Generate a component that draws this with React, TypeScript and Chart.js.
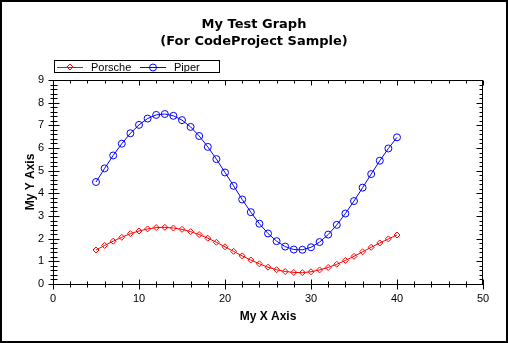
import React, { useEffect, useRef } from 'react';
import { Chart, registerables } from 'chart.js';

Chart.register(...registerables);

const titleLines = ['My Test Graph', '(For CodeProject Sample)'];
const xAxisTitle = 'My X Axis';
const yAxisTitle = 'My Y Axis';
const seriesNames = ['Porsche', 'Piper'];
const seriesColors = ['#FF0000', '#0000FF'];

const xValues = [5, 6, 7, 8, 9, 10, 11, 12, 13, 14, 15, 16, 17, 18, 19, 20, 21, 22, 23, 24, 25, 26, 27, 28, 29, 30, 31, 32, 33, 34, 35, 36, 37, 38, 39, 40];
const porsche = [1.50, 1.70, 1.89, 2.06, 2.22, 2.34, 2.43, 2.49, 2.50, 2.47, 2.41, 2.31, 2.18, 2.02, 1.84, 1.64, 1.44, 1.24, 1.06, 0.89, 0.74, 0.63, 0.55, 0.51, 0.50, 0.54, 0.62, 0.73, 0.87, 1.04, 1.22, 1.42, 1.62, 1.81, 1.99, 2.16];
const piper = [4.50, 5.10, 5.67, 6.19, 6.65, 7.02, 7.30, 7.46, 7.50, 7.42, 7.23, 6.93, 6.53, 6.05, 5.51, 4.92, 4.33, 3.73, 3.17, 2.66, 2.23, 1.89, 1.65, 1.52, 1.51, 1.62, 1.85, 2.18, 2.61, 3.11, 3.66, 4.25, 4.85, 5.44, 5.98, 6.47];

const xTicks = [0, 10, 20, 30, 40, 50];
const yTicks = [0, 1, 2, 3, 4, 5, 6, 7, 8, 9];
const xMinorPerMajor = 5;
const yMinorPerMajor = 5;

const FONT = "'Liberation Sans', Arial, sans-serif";

const framePlugin = {
  id: 'zgFrame',
  beforeDatasetsDraw(chart: any) {
    const { ctx, chartArea: a, scales } = chart;
    const xs = scales.x;
    const ys = scales.y;
    const L = Math.round(a.left) + 0.5;
    const R = Math.round(a.right) - 0.5;
    const T = Math.round(a.top) + 0.5;
    const B = Math.round(a.bottom) + 0.5;
    ctx.save();
    ctx.strokeStyle = '#000';
    ctx.lineWidth = 1;
    ctx.strokeRect(L, T, R - L, B - T);
    ctx.beginPath();
    for (let i = 0; i < xTicks.length; i++) {
      const v0 = xTicks[i];
      const px = Math.round(xs.getPixelForValue(v0)) + 0.5;
      ctx.moveTo(px, B - 5); ctx.lineTo(px, B + 5);
      ctx.moveTo(px, T); ctx.lineTo(px, T + 5);
      if (i < xTicks.length - 1) {
        const step = (xTicks[i + 1] - v0) / xMinorPerMajor;
        for (let k = 1; k < xMinorPerMajor; k++) {
          const mx = Math.round(xs.getPixelForValue(v0 + k * step)) + 0.5;
          ctx.moveTo(mx, B - 3); ctx.lineTo(mx, B + 3);
          ctx.moveTo(mx, T); ctx.lineTo(mx, T + 3);
        }
      }
    }
    for (let i = 0; i < yTicks.length; i++) {
      const v0 = yTicks[i];
      const py = Math.round(ys.getPixelForValue(v0)) + 0.5;
      ctx.moveTo(L - 5, py); ctx.lineTo(L + 6, py);
      ctx.moveTo(R, py); ctx.lineTo(R - 6, py);
      if (i < yTicks.length - 1) {
        const step = (yTicks[i + 1] - v0) / yMinorPerMajor;
        for (let k = 1; k < yMinorPerMajor; k++) {
          const my = Math.round(ys.getPixelForValue(v0 + k * step)) + 0.5;
          ctx.moveTo(L - 3, my); ctx.lineTo(L + 4, my);
          ctx.moveTo(R, my); ctx.lineTo(R - 3, my);
        }
      }
    }
    ctx.stroke();
    ctx.restore();
  },
  afterDraw(chart: any) {
    const { ctx } = chart;
    ctx.save();
    ctx.strokeStyle = '#000';
    ctx.lineWidth = 2;
    ctx.strokeRect(1, 1, chart.width - 2, chart.height - 2);
    ctx.lineWidth = 1;
    ctx.strokeRect(54.5, 60.5, 165, 12);
    ctx.font = `11px ${FONT}`;
    ctx.fillStyle = '#000';
    ctx.textBaseline = 'alphabetic';
    ctx.textAlign = 'left';
    const entries = [
      { x0: 57, name: seriesNames[0], color: seriesColors[0], style: 'diamond' },
      { x0: 140, name: seriesNames[1], color: seriesColors[1], style: 'circle' },
    ];
    for (const e of entries) {
      const cy = 67;
      const cx = e.x0 + 13;
      ctx.strokeStyle = e.color;
      ctx.beginPath();
      ctx.moveTo(e.x0, cy + 0.5); ctx.lineTo(e.x0 + 26, cy + 0.5);
      ctx.stroke();
      ctx.beginPath();
      if (e.style === 'diamond') {
        ctx.moveTo(cx, cy - 3); ctx.lineTo(cx + 3, cy); ctx.lineTo(cx, cy + 3); ctx.lineTo(cx - 3, cy); ctx.closePath();
      } else {
        ctx.arc(cx, cy + 0.5, 3.5, 0, Math.PI * 2);
      }
      ctx.stroke();
      ctx.fillText(e.name, e.x0 + 34, 71);
    }
    ctx.restore();
  },
};

export default function App() {
  const ref = useRef<HTMLCanvasElement>(null);
  useEffect(() => {
    const chart = new Chart(ref.current as HTMLCanvasElement, {
      type: 'line',
      data: {
        datasets: [
          {
            label: seriesNames[0],
            data: xValues.map((x, i) => ({ x, y: porsche[i] })),
            borderColor: seriesColors[0],
            borderWidth: 1,
            pointStyle: 'rectRot',
            pointRadius: 3,
            pointBorderWidth: 1,
            pointBorderColor: seriesColors[0],
            pointBackgroundColor: 'rgba(0,0,0,0)',
            tension: 0,
          },
          {
            label: seriesNames[1],
            data: xValues.map((x, i) => ({ x, y: piper[i] })),
            borderColor: seriesColors[1],
            borderWidth: 1,
            pointStyle: 'circle',
            pointRadius: 3.5,
            pointBorderWidth: 1,
            pointBorderColor: seriesColors[1],
            pointBackgroundColor: 'rgba(0,0,0,0)',
            tension: 0,
          },
        ],
      },
      options: {
        responsive: false,
        animation: false,
        devicePixelRatio: 1,
        layout: { padding: 0 },
        plugins: {
          legend: { display: false },
          tooltip: { enabled: false },
          title: {
            display: true,
            text: titleLines,
            color: '#000',
            font: { family: "'DejaVu Sans', sans-serif", weight: 'bold', size: 13, lineHeight: '17px' },
            padding: { top: 16, bottom: 30 },
          },
        },
        scales: {
          x: {
            type: 'linear',
            min: 0,
            max: 50,
            afterFit: (s: any) => { s.height = 59; },
            afterBuildTicks: (s: any) => { s.ticks = xTicks.map((v) => ({ value: v })); },
            grid: { display: false, drawTicks: false },
            border: { display: false },
            ticks: { color: '#000', font: { family: FONT, size: 11 }, padding: 8, autoSkip: false, maxRotation: 0 },
            title: {
              display: true,
              text: xAxisTitle,
              color: '#000',
              font: { family: FONT, size: 12, weight: 'bold' },
              padding: { top: 0, bottom: 19 },
            },
          },
          y: {
            type: 'linear',
            min: 0,
            max: 9,
            afterFit: (s: any) => { s.width = 53; },
            afterBuildTicks: (s: any) => { s.ticks = yTicks.map((v) => ({ value: v })); },
            grid: { display: false, drawTicks: false },
            border: { display: false },
            ticks: { color: '#000', font: { family: FONT, size: 11 }, padding: 9, autoSkip: false },
            title: {
              display: true,
              text: yAxisTitle,
              color: '#000',
              font: { family: FONT, size: 12, weight: 'bold' },
              padding: { top: 23, bottom: 0 },
            },
          },
          yRight: {
            type: 'linear',
            position: 'right',
            min: 0,
            max: 9,
            afterFit: (s: any) => { s.width = 25; },
            grid: { display: false, drawTicks: false },
            border: { display: false },
            ticks: { display: false },
          },
        },
      },
      plugins: [framePlugin],
    } as any);
    return () => chart.destroy();
  }, []);
  return (
    <div style={{ position: 'fixed', left: 0, top: 0, width: 508, height: 343, background: '#fff' }}>
      <canvas ref={ref} width={508} height={343} style={{ width: 508, height: 343, display: 'block' }} />
    </div>
  );
}
